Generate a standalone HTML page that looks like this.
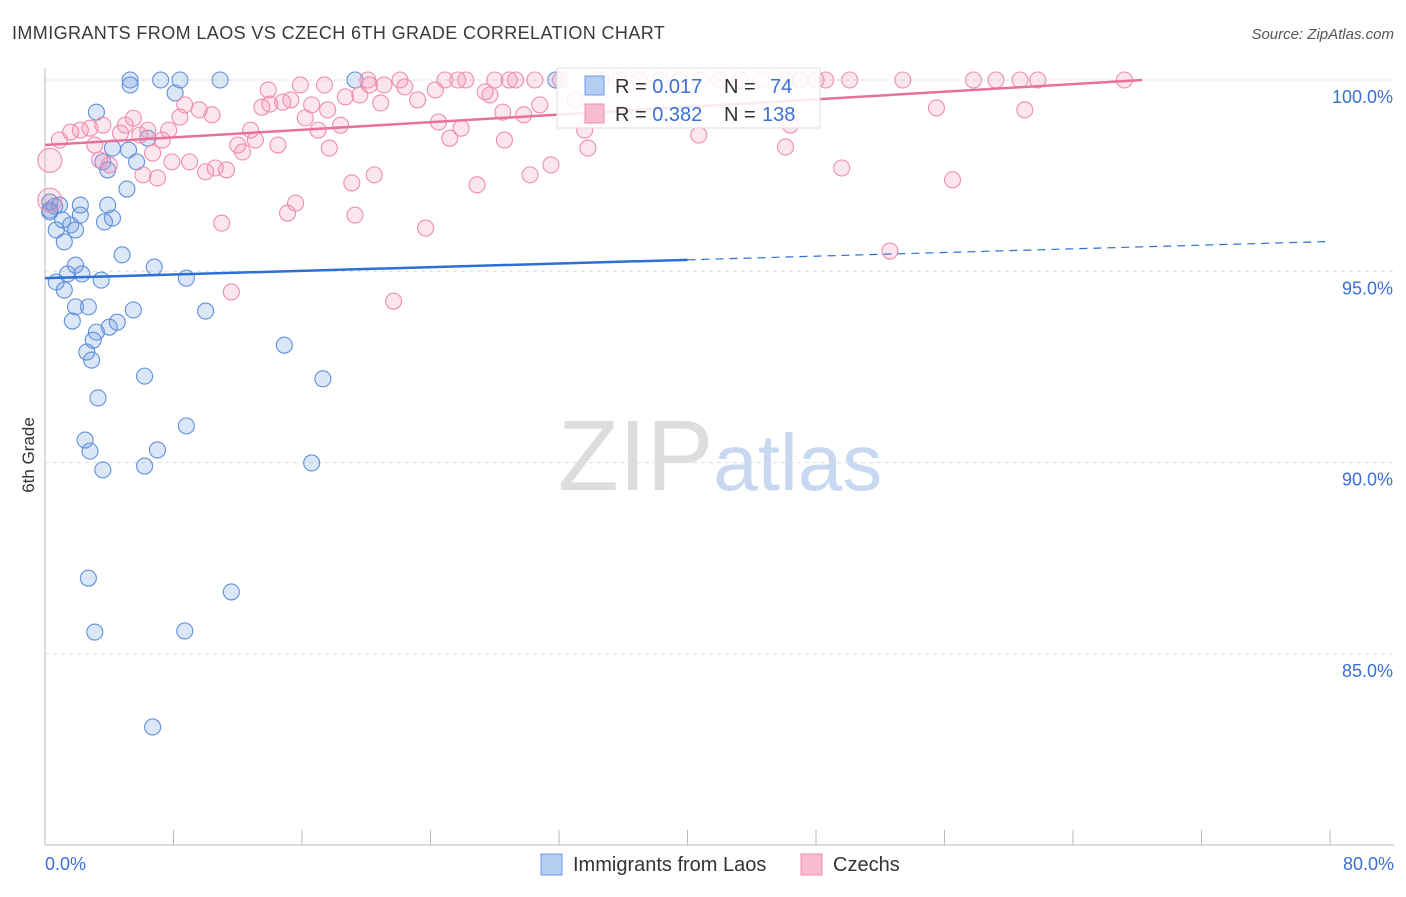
<!DOCTYPE html>
<html><head><meta charset="utf-8">
<style>
body{margin:0;background:#fff;font-family:"Liberation Sans",sans-serif;}
svg text{font-family:"Liberation Sans",sans-serif;}
</style></head>
<body>
<svg id="chart" width="1406" height="892" xmlns="http://www.w3.org/2000/svg">
<text x="12" y="39" font-size="18" fill="#3a3a3a" letter-spacing="0.4">IMMIGRANTS FROM LAOS VS CZECH 6TH GRADE CORRELATION CHART</text>
<text x="1394" y="39" font-size="15" fill="#555" font-style="italic" text-anchor="end">Source: ZipAtlas.com</text>
<text x="720" y="490" font-size="100" text-anchor="middle" fill="#ddd" font-family="Liberation Serif">ZIP<tspan fill="#c8d8f0" font-family="Liberation Sans" font-size="80">atlas</tspan></text>
<g id="grid"></g>
<g id="axes"></g>
<g id="pts"></g>
<g id="trend"></g>
<text transform="translate(34,455) rotate(-90)" font-size="17" fill="#333" text-anchor="middle">6th Grade</text>
<g>
<rect x="557" y="68" width="263" height="60" fill="#fff" fill-opacity="0.85" stroke="#ddd"/>
<rect x="585" y="76" width="19" height="19" fill="#b6cdf2" stroke="#6b9be0"/>
<rect x="585" y="104" width="19" height="19" fill="#f8bccf" stroke="#f08cb0"/>
<text x="615" y="93" font-size="20" fill="#333">R = <tspan fill="#3a6fd8">0.017</tspan><tspan x="724">N = </tspan><tspan x="770" fill="#3a6fd8">74</tspan></text>
<text x="615" y="121" font-size="20" fill="#333">R = <tspan fill="#3a6fd8">0.382</tspan><tspan x="724">N = </tspan><tspan x="762" fill="#3a6fd8">138</tspan></text>
</g>
<g>
<rect x="541" y="854" width="21" height="21" fill="#b6cdf2" stroke="#6b9be0"/>
<text x="573" y="871" font-size="20" fill="#333">Immigrants from Laos</text>
<rect x="801" y="854" width="21" height="21" fill="#f8bccf" stroke="#f08cb0"/>
<text x="833" y="871" font-size="20" fill="#333">Czechs</text>
</g>
</svg>
<script>
const blueX=[5.3,7.2,8.4,10.9,19.3,31.8,5.3,8.1,3.2,6.4,4.2,5.2,3.6,5.7,3.9,5.1,0.3,0.9,2.2,3.9,0.3,2.2,1.1,1.6,4.2,3.7,0.7,1.9,1.2,4.8,1.9,6.8,1.4,2.3,0.7,3.5,8.8,1.2,2.7,1.9,5.5,10.0,1.7,4.5,4.0,3.2,3.0,14.9,2.6,2.9,6.2,17.3,3.3,8.8,2.5,2.8,7.0,6.2,3.6,16.6,2.7,11.6,3.1,8.7,6.7,0.3,0.6];
const blueY=[100,100,100,100,100,100,99.87,99.66,99.16,98.48,98.22,98.17,97.86,97.86,97.65,97.15,96.81,96.73,96.73,96.73,96.55,96.47,96.34,96.21,96.39,96.29,96.08,96.08,95.77,95.43,95.16,95.11,94.93,94.93,94.72,94.77,94.82,94.51,94.07,94.07,93.99,93.96,93.70,93.67,93.54,93.41,93.20,93.07,92.89,92.68,92.26,92.19,91.69,90.96,90.59,90.30,90.33,89.91,89.81,89.99,86.98,86.62,85.57,85.60,83.09,96.6,96.7];
const pinkX=[0.3,0.3,0.9,1.6,2.2,2.8,3.6,3.1,3.4,4.0,4.7,5.0,5.5,5.9,6.4,6.7,6.1,7.0,7.3,7.7,7.9,8.4,8.7,9.0,9.6,10.0,10.4,10.6,11.3,11.0,11.6,12.0,12.3,12.8,13.1,13.5,13.9,14.0,14.5,14.8,15.3,15.1,15.6,15.9,16.2,16.6,17.0,17.4,17.6,17.7,18.4,18.7,19.1,19.3,19.6,20.1,20.2,20.5,20.9,21.1,21.7,22.1,22.4,23.2,23.7,24.3,24.5,24.9,25.2,25.7,25.9,26.2,26.9,27.4,27.7,28.0,28.5,28.6,28.9,29.3,29.8,30.2,30.5,30.8,31.5,32.1,33.0,33.6,33.8,34.6,35.8,37.0,38.3,39.5,40.7,40.8,42.0,43.3,44.6,46.1,46.1,46.4,47.0,48.0,48.6,49.6,50.1,52.6,53.4,55.5,56.5,57.8,59.2,60.7,61.0,61.8,67.2];
const pinkY=[97.9,96.86,98.43,98.64,98.69,98.74,98.82,98.30,97.91,97.78,98.61,98.82,99.0,98.56,98.69,98.09,97.52,97.44,98.43,98.69,97.86,99.03,99.35,97.86,99.22,97.60,99.09,97.70,97.65,96.26,94.46,98.30,98.12,98.69,98.43,99.29,99.74,99.37,98.30,99.42,99.48,96.52,96.78,99.87,99.01,99.35,98.69,99.87,99.22,98.22,98.82,99.56,97.31,96.47,99.61,100,99.87,97.52,99.40,99.87,94.22,100,99.82,99.48,96.13,99.74,98.90,100,98.48,100,98.74,100,97.26,99.69,99.61,100,99.16,98.43,100,100,99.09,97.52,100,99.35,97.78,100,99.48,98.69,98.22,100,100,100,100,100,98.56,100,100,100,100,100,98.25,98.82,100,100,100,97.70,100,95.53,100,99.27,97.39,100,100,100,99.22,100,100];
const yTicks=[100,95,90,85];
const yTickLabels=["100.0%","95.0%","90.0%","85.0%"];
const xTickLabels=["0.0%","80.0%"];
const blueTrend=[0,94.82,40,95.3,80,95.78];
const pinkTrend=[0,98.3,68.3,100];

const NS="http://www.w3.org/2000/svg";
const X=v=>45+v/80*1285;
const Y=v=>80+(100-v)/5*191.3;
function mk(tag,attrs,parent){const e=document.createElementNS(NS,tag);for(const k in attrs)e.setAttribute(k,attrs[k]);document.getElementById(parent).appendChild(e);return e;}
yTicks.forEach((t,i)=>{
 const l=mk('line',{x1:45,x2:1394,y1:Y(t),y2:Y(t),stroke:'#ddd','stroke-dasharray':'4,4'},'grid');
 
 
 const tx=mk('text',{x:1393,y:Y(t)+23,'font-size':18,fill:'#3a6fd8','text-anchor':'end'},'grid');
 tx.textContent=yTickLabels[i];
 
 
});
const ax=mk('line',{x1:45,x2:45,y1:68,y2:845,stroke:'#bbb'},'axes');


const bx=mk('line',{x1:45,x2:1394,y1:845,y2:845,stroke:'#bbb'},'axes');


for(let i=0;i<=10;i++){
 const t=mk('line',{x1:X(i*8),x2:X(i*8),y1:830,y2:845,stroke:'#bbb'},'axes');
 
 
}
[[0,'start',45],[80,'end',1394]].forEach((d,i)=>{
 const t=mk('text',{x:d[2],y:870,'font-size':18,fill:'#3a6fd8','text-anchor':d[1]},'axes');
 t.textContent=xTickLabels[i];
 
 
});
blueX.forEach((v,i)=>{
 const c=mk('circle',{cx:X(v),cy:Y(blueY[i]),r:8,fill:'rgba(110,155,225,0.25)',stroke:'#5f90dc','stroke-width':1.1},'pts');
 
 
});
pinkX.forEach((v,i)=>{
 const c=mk('circle',{cx:X(v),cy:Y(pinkY[i]),r:(i<2?12:8),fill:'rgba(240,140,175,0.22)',stroke:'#f08cb0','stroke-width':1.1},'pts');
 
 
});
const b1=mk('line',{x1:X(blueTrend[0]),y1:Y(blueTrend[1]),x2:X(blueTrend[2]),y2:Y(blueTrend[3]),stroke:'#2c6fd6','stroke-width':2.5},'trend');


const b2=mk('line',{x1:X(blueTrend[2]),y1:Y(blueTrend[3]),x2:X(blueTrend[4]),y2:Y(blueTrend[5]),stroke:'#2c6fd6','stroke-width':1.2,'stroke-dasharray':'8,6'},'trend');


const p1=mk('line',{x1:X(pinkTrend[0]),y1:Y(pinkTrend[1]),x2:X(pinkTrend[2]),y2:Y(pinkTrend[3]),stroke:'#e8719b','stroke-width':2.5},'trend');


</script>
</body></html>
